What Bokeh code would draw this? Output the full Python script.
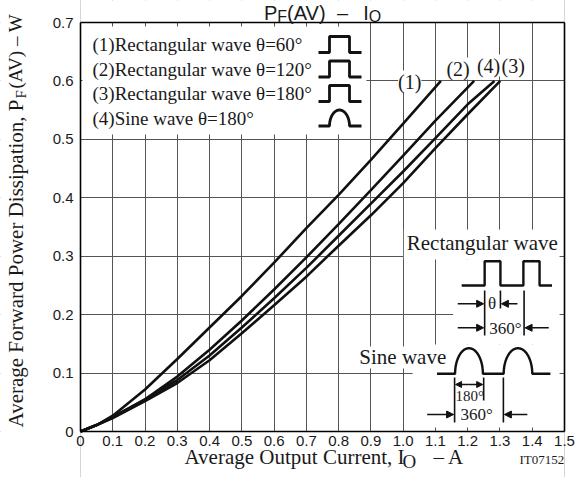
import numpy as np
from bokeh.plotting import figure
from bokeh.models import Range1d, FixedTicker, Label, Arrow, NormalHead, LinearAxis
from bokeh.embed import file_html
from bokeh.resources import INLINE

# ---------------- data ----------------
x_rect60 = [0, 0.05, 0.1, 0.2, 0.3, 0.4, 0.5, 0.6, 0.7, 0.8, 0.9, 1.0, 1.117]
y_rect60 = [0, 0.011, 0.027, 0.072, 0.124, 0.178, 0.232, 0.289, 0.348, 0.405, 0.465, 0.527, 0.6]

x_rect120 = [0, 0.05, 0.1, 0.2, 0.3, 0.4, 0.5, 0.6, 0.7, 0.8, 0.9, 1.0, 1.1, 1.22]
y_rect120 = [0, 0.011, 0.024, 0.055, 0.094, 0.14, 0.19, 0.243, 0.298, 0.355, 0.413, 0.472, 0.532, 0.6]

x_rect180 = [0, 0.05, 0.1, 0.2, 0.3, 0.4, 0.5, 0.6, 0.7, 0.8, 0.9, 1.0, 1.1, 1.2, 1.301]
y_rect180 = [0, 0.011, 0.023, 0.052, 0.083, 0.122, 0.168, 0.216, 0.265, 0.318, 0.37, 0.425, 0.485, 0.543, 0.6]

x_sine180 = [0, 0.05, 0.1, 0.2, 0.3, 0.4, 0.5, 0.6, 0.7, 0.8, 0.9, 1.0, 1.1, 1.2, 1.283]
y_sine180 = [0, 0.011, 0.025, 0.055, 0.088, 0.13, 0.178, 0.228, 0.28, 0.335, 0.39, 0.445, 0.502, 0.56, 0.6]

curve_names = ["(1)", "(2)", "(3)", "(4)"]
legend_texts = ["(1)Rectangular wave \u03b8=60\u00b0",
                "(2)Rectangular wave \u03b8=120\u00b0",
                "(3)Rectangular wave \u03b8=180\u00b0",
                "(4)Sine wave \u03b8=180\u00b0"]

x_ticks = [0, 0.1, 0.2, 0.3, 0.4, 0.5, 0.6, 0.7, 0.8, 0.9, 1.0, 1.1, 1.2, 1.3, 1.4, 1.5]
x_tick_labels = ["0", "0.1", "0.2", "0.3", "0.4", "0.5", "0.6", "0.7", "0.8", "0.9",
                 "1.0", "1.1", "1.2", "1.3", "1.4", "1.5"]
y_ticks = [0, 0.1, 0.2, 0.3, 0.4, 0.5, 0.6, 0.7]
y_tick_labels = ["0", "0.1", "0.2", "0.3", "0.4", "0.5", "0.6", "0.7"]

# ---------------- layout ----------------
W, H = 575, 477
XMAX, YMAX = 1.5, 0.7
CX0, CX1 = 80, 564      # canvas px of x=0 and x=1.5
CY0, CY1 = 431, 22      # canvas px of y=0 and y=0.7
KX = (CX1 - CX0) / XMAX
KY = (CY0 - CY1) / YMAX
XL, XR = -CX0 / KX, (W - CX0) / KX
YB, YT = -(H - CY0) / KY, CY0 / KY


def dx(px):
    # reference-picture pixel (inside the chart box) -> data x
    return (px - 80) / 491 * XMAX


def dy(py):
    return (431 - py) / 409 * YMAX


def cx(px):
    # canvas pixel -> data x
    return (px - CX0) / KX


def cy(py):
    return (CY0 - py) / KY


p = figure(width=W, height=H, x_range=Range1d(XL, XR), y_range=Range1d(YB, YT),
           output_backend="svg", toolbar_location=None, title=None, min_border=0)
p.background_fill_color = "white"
p.border_fill_color = "white"
p.outline_line_color = None

p.xaxis.fixed_location = 0
p.yaxis.fixed_location = 0
p.xaxis.bounds = (0, XMAX)
p.yaxis.bounds = (0, YMAX)
p.xaxis.ticker = FixedTicker(ticks=x_ticks)
p.yaxis.ticker = FixedTicker(ticks=y_ticks)
p.xaxis.major_label_overrides = dict(zip(x_ticks, x_tick_labels))
p.yaxis.major_label_overrides = dict(zip(y_ticks, y_tick_labels))
p.xgrid.ticker = FixedTicker(ticks=x_ticks)
p.ygrid.ticker = FixedTicker(ticks=y_ticks)
for g in (p.xgrid, p.ygrid):
    g.grid_line_color = "#555555"
    g.grid_line_width = 1
for ax in (p.xaxis, p.yaxis):
    ax.axis_line_color = "black"
    ax.axis_line_width = 1.6
    ax.major_tick_in = 0
    ax.major_tick_out = 0
    ax.minor_tick_line_color = None
    ax.major_label_text_font = "Liberation Sans"
    ax.major_label_text_font_size = "15px"
    ax.major_label_text_color = "#1a1a1a"
p.xaxis.major_label_standoff = 4
p.yaxis.major_label_standoff = 7

# top and right frame edges
for side, loc, bnd in (("above", YMAX, (0, XMAX)), ("right", XMAX, (0, YMAX))):
    edge = LinearAxis(fixed_location=loc, bounds=bnd, ticker=FixedTicker(ticks=[]),
                      major_tick_in=0, major_tick_out=0, minor_tick_line_color=None,
                      major_label_text_font_size="0px",
                      axis_line_color="black", axis_line_width=1.6)
    p.add_layout(edge, side)

# ---------------- white masks ----------------
outer = [(XL, 0, YB, YT), (XMAX, XR, YB, YT), (0, XMAX, YMAX, YT), (0, XMAX, YB, 0)]
p.quad(left=[o[0] for o in outer], right=[o[1] for o in outer],
       bottom=[o[2] for o in outer], top=[o[3] for o in outer],
       fill_color="white", line_color=None)
masks = [(82, 370, 26, 134),
         (408, 566, 229, 259),
         (458, 566, 259, 344),
         (367, 456, 346, 368),
         (417, 566, 344, 427)]
p.quad(left=[dx(m[0]) for m in masks], right=[dx(m[1]) for m in masks],
       top=[dy(m[2]) for m in masks], bottom=[dy(m[3]) for m in masks],
       fill_color="white", line_color=None)

# ---------------- curves ----------------
INK = "#111111"
for xs, ys in [(x_rect60, y_rect60), (x_rect120, y_rect120),
               (x_rect180, y_rect180), (x_sine180, y_sine180)]:
    p.line(xs, ys, line_width=2.6, line_color=INK)

SERIF = "Liberation Serif"
SANS = "Liberation Sans"
TXT = "#1a1a1a"


def lab(text, px, py, size, align="left", angle=0, bg=None, font=SERIF, canvas=False):
    kw = {}
    if bg is not None:
        kw["background_fill_color"] = bg
    x = cx(px) if canvas else dx(px)
    y = cy(py) if canvas else dy(py)
    p.add_layout(Label(x=x, y=y, text=text, text_font=font,
                       text_font_size=f"{size}px", text_align=align,
                       text_baseline="middle", text_color=TXT,
                       angle=angle, angle_units="deg", **kw))


# curve labels
lab(curve_names[0], 414, 81, 20, align="center", bg="white")
lab(curve_names[1], 463, 68, 20, align="center", bg="white")
lab(curve_names[3], 494, 65, 20, align="center", bg="white")
lab(curve_names[2], 519, 65, 20, align="center", bg="white")

# ---------------- legend ----------------
row_c = [44, 68.5, 93, 117.5]
for t, c in zip(legend_texts, row_c):
    lab(t, 92, c, 19, canvas=True)
SX = [318, 329, 329, 349, 349, 361]
for c in row_c[:3]:
    ys = [c + 8, c + 8, c - 8, c - 8, c + 8, c + 8]
    p.line([cx(v) for v in SX], [cy(v) for v in ys], line_width=2.8, line_color=INK)
c = row_c[3]
tt = np.linspace(np.pi, 0, 40)
xs = [318] + list(339 + 10 * np.cos(tt)) + [361]
ys = [c + 8] + list(c + 8 - 16 * np.sin(tt)) + [c + 8]
p.line([cx(v) for v in xs], [cy(v) for v in ys], line_width=2.8, line_color=INK)

# ---------------- rectangular wave diagram ----------------
lab("Rectangular wave", 411, 242.5, 21)
rx = [466.7, 490, 490, 506, 506, 529.3, 529.3, 545.7, 545.7, 558.3]
ry = [285, 285, 260.7, 260.7, 285, 285, 260.7, 260.7, 285, 285]
p.line([dx(v) for v in rx], [dy(v) for v in ry], line_width=2.4, line_color=INK)
for (x0, y0, y1) in [(490, 290, 335), (506, 290, 308), (530, 290, 335)]:
    p.line([dx(x0), dx(x0)], [dy(y0), dy(y1)], line_width=1.6, line_color=INK)


def arrow(x0, y0, x1, y1, size=7):
    p.add_layout(Arrow(end=NormalHead(size=size, fill_color=INK, line_color=INK),
                       x_start=dx(x0), y_start=dy(y0), x_end=dx(x1), y_end=dy(y1),
                       line_width=1.4, line_color=INK))


arrow(462.7, 303.3, 489, 303.3)
arrow(523.3, 303.3, 507, 303.3)
arrow(462.7, 327.3, 489, 327.3)
arrow(555, 327.3, 531, 327.3)
lab("\u03b8", 497.5, 303, 17, align="center")
lab("360\u00b0", 511, 327.5, 17, align="center")

# ---------------- sine wave diagram ----------------
lab("Sine wave", 451, 356.5, 21, align="right")
tt = np.linspace(np.pi, 0, 50)
sx = ([441.7] + list(474.1 + 14.1 * np.cos(tt)) + list(523.8 + 14.5 * np.cos(tt)) + [556.7])
sy = ([373.3] + list(373.3 - 25.6 * np.sin(tt)) + list(373.3 - 25.6 * np.sin(tt)) + [373.3])
p.line([dx(v) for v in sx], [dy(v) for v in sy], line_width=2.4, line_color=INK)
for (x0, y0, y1) in [(459.5, 377, 422), (489, 377, 400), (509, 377, 422)]:
    p.line([dx(x0), dx(x0)], [dy(y0), dy(y1)], line_width=1.6, line_color=INK)
arrow(474, 384, 460.5, 384, size=6)
arrow(474, 384, 488, 384, size=6)
arrow(431.7, 414, 458.5, 414)
arrow(533.3, 414, 510, 414)
lab("180\u00b0", 475, 395.5, 15, align="center")
lab("360\u00b0", 482, 414, 17, align="center")

# ---------------- title ----------------
lab("P", 263.5, 12.5, 20, font=SANS, canvas=True)
lab("F", 276.8, 15.5, 16, font=SANS, canvas=True)
lab("(AV)", 286.6, 12.5, 20, font=SANS, canvas=True)
lab("\u2013", 336.6, 12.5, 20, font=SANS, canvas=True)
lab("I", 362.7, 12.5, 20, font=SANS, canvas=True)
lab("O", 368.3, 15.5, 16, font=SANS, canvas=True)

# ---------------- axis titles ----------------
lab("Average Output Current, I", 184, 456, 21, canvas=True)
lab("O", 402, 460.5, 19, canvas=True)
lab("\u2013 A", 433, 456, 21, canvas=True)
lab("IT07152", 519, 459, 13, canvas=True)

lab("Average Forward Power Dissipation, P", 15, 99, 21, align="right", angle=90, canvas=True)
lab("F", 20.5, 98, 15, align="left", angle=90, canvas=True)
lab("(AV) \u2013 W", 15, 88, 19, align="left", angle=90, canvas=True)

open("out.html", "w").write(file_html(p, INLINE))
